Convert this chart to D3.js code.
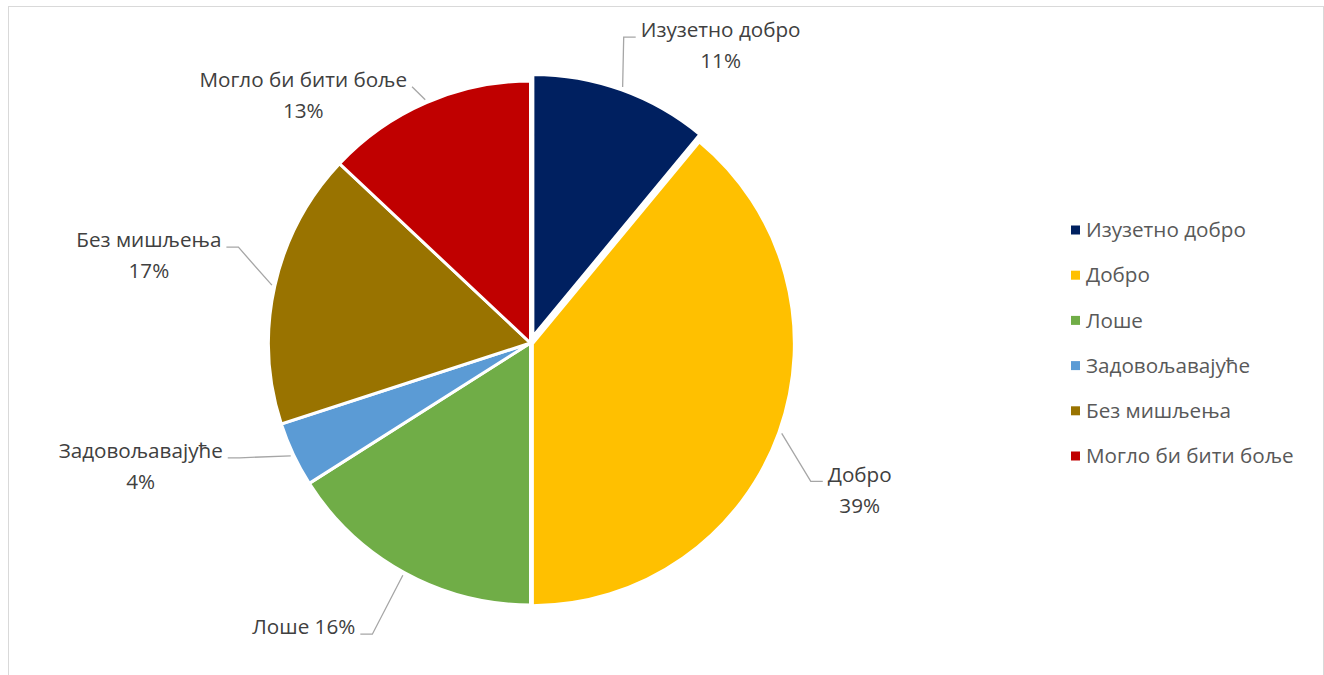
<!DOCTYPE html>
<html>
<head>
<meta charset="utf-8">
<script src="https://cdn.jsdelivr.net/npm/d3@7/dist/d3.min.js"></script>
<style>
  html, body { margin: 0; padding: 0; background: #fff; }
  svg { display: block; }
</style>
</head>
<body>
<svg id="chart" width="1324" height="675"></svg>
<script>
// ---- data ----
const categories = ["Изузетно добро", "Добро", "Лоше", "Задовољавајуће", "Без мишљења", "Могло би бити боље"];
const values = [11, 39, 16, 4, 17, 13];
const labelLines = [
  ["Изузетно добро", "11%"],
  ["Добро", "39%"],
  ["Лоше 16%"],
  ["Задовољавајуће", "4%"],
  ["Без мишљења", "17%"],
  ["Могло би бити боље", "13%"]
];
const colors = ["#002060", "#FFC000", "#70AD47", "#5B9BD5", "#997300", "#C00000"];

// ---- layout ----
const W = 1324, H = 675;
const cx = 530.5, cy = 343, R = 262;
const explode = [7, 2, 0, 0, 0, 0];
// label centre offset from the leader anchor (first line centre), elbow flag
const labelOffset = [[98, -57], [78, 41], [-99, 52], [-150, -5], [-123, -45], [-122, -20]];
const useElbow = [true, true, true, true, true, false];
const FONT = "'Open Sans', 'Noto Sans', sans-serif";
const lineGap = 31;

const svg = d3.select("#chart");

// chart frame
svg.append("rect")
  .attr("x", 8.5).attr("y", 6.5).attr("width", 1315).attr("height", 720)
  .attr("fill", "#fff").attr("stroke", "#d9d9d9").attr("stroke-width", 1);

// fit font size to the Calibri-like label width of the reference
const probe = svg.append("text").attr("font-family", FONT).attr("font-size", 100).text("Изузетно добро");
const probeW = probe.node().getComputedTextLength();
probe.remove();
const fs = 100 * 160 / probeW;

const pie = d3.pie().sort(null).value(d => d)(values);
const arc = d3.arc().innerRadius(0).outerRadius(R);

const g = svg.append("g").attr("transform", `translate(${cx},${cy})`);

pie.forEach((p, i) => {
  const mid = (p.startAngle + p.endAngle) / 2;
  const ox = Math.sin(mid) * explode[i], oy = -Math.cos(mid) * explode[i];
  g.append("path")
    .attr("d", arc(p))
    .attr("transform", `translate(${ox},${oy})`)
    .attr("fill", colors[i])
    .attr("stroke", "#fff")
    .attr("stroke-width", 3)
    .attr("stroke-linejoin", "miter");
});

// labels and leader lines
pie.forEach((p, i) => {
  const mid = (p.startAngle + p.endAngle) / 2;
  const rr = R + 3 + explode[i];
  const ax = cx + Math.sin(mid) * rr, ay = cy - Math.cos(mid) * rr;
  const lx = ax + labelOffset[i][0], ly = ay + labelOffset[i][1];

  const t = svg.append("text")
    .attr("font-family", FONT).attr("font-size", fs)
    .attr("fill", "#404040").attr("text-anchor", "middle");
  labelLines[i].forEach((s, k) => {
    t.append("tspan").attr("x", lx).attr("y", ly + k * lineGap).attr("dy", "0.35em").text(s);
  });
  const w1 = t.select("tspan").node().getComputedTextLength();
  const leftSide = lx > ax;
  const ex = leftSide ? lx - w1 / 2 - 5 : lx + w1 / 2 + 5;
  const ey = ly + 7;
  const pts = [[ax, ay]];
  if (useElbow[i]) pts.push([leftSide ? ex - 12 : ex + 12, ey]);
  pts.push([ex, ey]);
  svg.insert("path", "text")
    .attr("d", d3.line()(pts))
    .attr("fill", "none").attr("stroke", "#a6a6a6").attr("stroke-width", 1.3);
});

// legend
const legY0 = 230, legStep = 45.2, legX = 1071;
const leg = svg.append("g");
categories.forEach((c, i) => {
  const y = legY0 + i * legStep;
  leg.append("rect").attr("x", legX).attr("y", y - 4.5).attr("width", 9).attr("height", 9).attr("fill", colors[i]);
  leg.append("text").attr("x", legX + 15).attr("y", y).attr("dy", "0.35em")
    .attr("font-family", FONT).attr("font-size", fs).attr("fill", "#595959").text(c);
});
</script>
</body>
</html>
